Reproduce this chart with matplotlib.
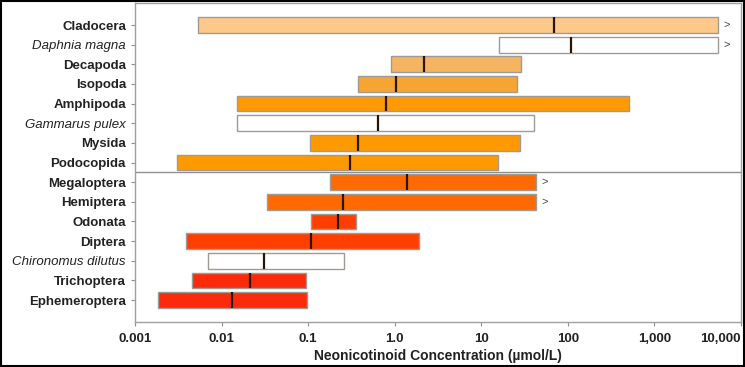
import matplotlib
matplotlib.use('Agg')
import matplotlib.pyplot as plt
from matplotlib.patches import Rectangle

plt.rcParams['font.family'] = ['Liberation Sans', 'DejaVu Sans']

taxa = ['Cladocera', 'Daphnia magna', 'Decapoda', 'Isopoda', 'Amphipoda',
        'Gammarus pulex', 'Mysida', 'Podocopida', 'Megaloptera', 'Hemiptera',
        'Odonata', 'Diptera', 'Chironomus dilutus', 'Trichoptera', 'Ephemeroptera']
species = ['Daphnia magna', 'Gammarus pulex', 'Chironomus dilutus']
low = [0.0053, 16, 0.90, 0.376, 0.0151, 0.0151, 0.105, 0.00306,
       0.179, 0.0334, 0.108, 0.00388, 0.00697, 0.00455, 0.00184]
median = [69, 108, 2.17, 1.03, 0.79, 0.64, 0.376, 0.304,
          1.38, 0.252, 0.221, 0.108, 0.0309, 0.0213, 0.0132]
high = [5400, 5400, 28.7, 25.8, 506, 40.5, 27.9, 15.6,
        42.7, 42.7, 0.356, 1.90, 0.259, 0.0944, 0.0968]
open_ended = ['Cladocera', 'Daphnia magna', 'Megaloptera', 'Hemiptera']
colors = ['#fcc98a', '#ffffff', '#f5b462', '#f7a532', '#ff9900', '#ffffff',
          '#ff9900', '#ff9900', '#ff6a00', '#ff6a00', '#ff3e00', '#ff3e00',
          '#ffffff', '#fb2a0a', '#fb2a0a']
xticks = [0.001, 0.01, 0.1, 1, 10, 100, 1000, 10000]
xticklabels = ['0.001', '0.01', '0.1', '1.0', '10', '100', '1,000', '10,000']

fig = plt.figure(figsize=(7.45, 3.67), dpi=100)
ax = fig.add_axes([0.1812, 0.1226, 0.8134, 0.8692])

y = list(range(len(taxa)))
widths = [h - l for l, h in zip(low, high)]
ax.barh(y, widths, left=low, height=0.8, color=colors, edgecolor='#a09a94',
        linewidth=1.0, zorder=2)
ax.vlines(median, [v - 0.4 for v in y], [v + 0.4 for v in y],
          color='#2a1505', linewidth=1.6, zorder=3)
for name, yy, h in zip(taxa, y, high):
    if name in open_ended:
        ax.annotate('>', (h, yy), xytext=(4, 0), textcoords='offset points',
                    va='center', ha='left', fontsize=8, color='#444444')

ax.axhline(7.5, color='#909090', linewidth=1.0, zorder=1)

ax.set_xscale('log')
ax.set_xlim(0.001, 10000)
ax.set_ylim(14 + 1.12, -1.12)
ax.set_xticks(xticks)
ax.set_xticklabels(xticklabels)
ax.minorticks_off()
ax.set_yticks(y)
ax.set_yticklabels(taxa)
for lab in ax.get_yticklabels():
    if lab.get_text() in species:
        lab.set_fontstyle('italic')
        lab.set_fontweight('normal')
    else:
        lab.set_fontweight('bold')
for lab in ax.get_xticklabels():
    lab.set_fontweight('bold')
ax.get_xticklabels()[-1].set_horizontalalignment('right')
ax.tick_params(axis='both', labelsize=9.5, colors='#222222', length=3,
               width=0.8, color='#909090')
ax.tick_params(axis='x', pad=5)
for s in ax.spines.values():
    s.set_color('#a0a0a0')
    s.set_linewidth(1.0)
ax.set_xlabel('Neonicotinoid Concentration (\u00b5mol/L)', fontsize=10,
              fontweight='bold', color='#222222', labelpad=3)

fig.patches.append(Rectangle((0.002, 0.003), 0.996, 0.994, transform=fig.transFigure,
                             fill=False, edgecolor='black', linewidth=1.5))

fig.savefig('out.png', dpi=100)
